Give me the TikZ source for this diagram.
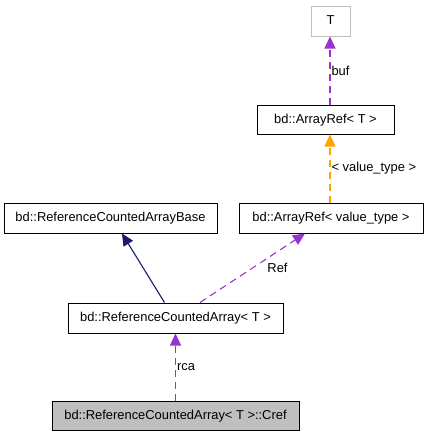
\documentclass[tikz,border=0pt]{standalone}
\usepackage{fontspec}
\setmainfont{Liberation Sans}
\usetikzlibrary{arrows.meta,calc}
\definecolor{edgepurple}{HTML}{9A32CD}
\definecolor{edgenavy}{HTML}{191970}
\definecolor{edgeorange}{HTML}{FFA500}
\definecolor{boxgray}{HTML}{BFBFBF}
\begin{document}
\begin{tikzpicture}[x=1pt,y=-1pt,
  every node/.style={font=\fontsize{12.9}{15}\selectfont},
  cls/.style={draw=black, line width=1pt, inner sep=0pt, minimum height=30pt, text height=9.5pt, text depth=2.5pt},
  lbl/.style={inner sep=1pt, anchor=west},
  tip/.style={-{Triangle[length=12pt,width=11pt]}},
  dep/.style={tip, draw=edgepurple, line width=1.1pt, dash pattern=on 7pt off 5pt},
  inh/.style={tip, draw=edgenavy, line width=1.1pt},
  tpl/.style={tip, draw=edgeorange, line width=1.1pt, dash pattern=on 7pt off 5pt}]
\useasboundingbox (0,0) rectangle (427,437);
\node[cls, draw=boxgray, minimum width=39pt] (T) at (330.5,21) {T};
\node[cls, minimum width=137pt, minimum height=29pt] (ArT) at (325.5,119.5) {bd::ArrayRef< T >};
\node[cls, minimum width=213pt] (Base) at (110.5,218) {bd::ReferenceCountedArrayBase};
\node[cls, minimum width=184pt] (ArV) at (331,218) {bd::ArrayRef< value\_type >};
\node[cls, minimum width=215pt] (RCA) at (175.5,318) {bd::ReferenceCountedArray< T >};
\node[cls, fill=boxgray, minimum width=247pt, minimum height=29pt] (Cref) at (175.5,415.5) {bd::ReferenceCountedArray< T >::Cref};

\draw[dep] (Cref.north) -- node[lbl, pos=0.5] {rca} (RCA.south);
\draw[inh] ([xshift=-11pt]RCA.north) -- ([xshift=11.5pt]Base.south);
\draw[dep] ([xshift=24.5pt]RCA.north) -- node[pos=0.5, xshift=25pt] {Ref} ([xshift=-26pt]ArV.south);
\draw[tpl] ([xshift=-1pt]ArV.north) -- node[lbl, pos=0.5] {< value\_type >} ([xshift=4.5pt]ArT.south);
\draw[dep] ([xshift=4.5pt]ArT.north) -- node[lbl, pos=0.5] {buf} ([xshift=-0.5pt]T.south);
\end{tikzpicture}
\end{document}
